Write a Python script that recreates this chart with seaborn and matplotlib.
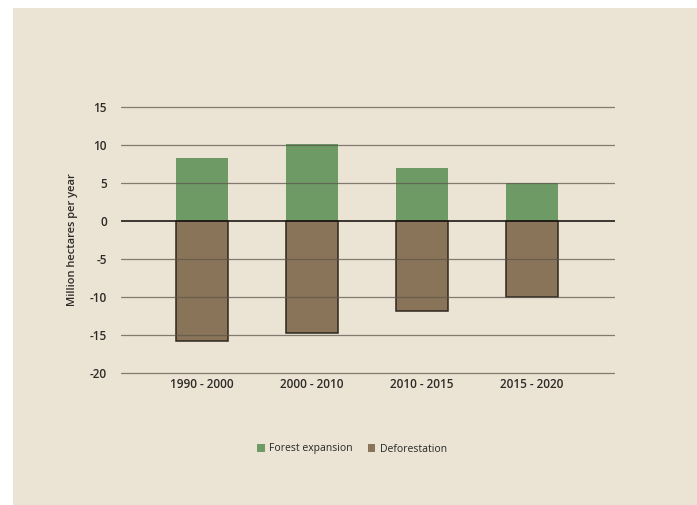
import matplotlib
matplotlib.use("Agg")
import matplotlib.pyplot as plt
import seaborn as sns
import pandas as pd
from matplotlib.patches import Rectangle, Patch

periods = ["1990 - 2000", "2000 - 2010", "2010 - 2015", "2015 - 2020"]
forest_expansion = [8.3, 10.1, 7.0, 5.0]
deforestation = [-15.8, -14.8, -11.8, -10.0]
y_ticks = [15, 10, 5, 0, -5, -10, -15, -20]
series_names = ["Forest expansion", "Deforestation"]

green = "#6e9a66"
brown = "#8a7459"
bg = "#ebe4d5"

sns.set_theme(style="white")
plt.rcParams['font.family'] = ['Open Sans', 'DejaVu Sans']

W, H = 697, 505
fig = plt.figure(figsize=(W / 100, H / 100), dpi=100, facecolor="white")
fig.patches.append(Rectangle((13 / W, 0), 1 - 13 / W, 1 - 8 / H, transform=fig.transFigure,
                             facecolor=bg, edgecolor="none", zorder=-5))

ymin, ymax = -20.5, 15.5
ppu = (373 - 107) / 35.0
top_px = 107 - (ymax - 15) * ppu
bot_px = 373 + (-20 - ymin) * ppu
ax = fig.add_axes([121 / W, 1 - bot_px / H, (615 - 121) / W, (bot_px - top_px) / H])
ax.set_facecolor("none")
ax.patch.set_alpha(0)

df = pd.DataFrame({"period": periods, "exp": forest_expansion, "defo": deforestation})
sns.barplot(data=df, x="period", y="exp", color=green, saturation=1, width=0.47,
            edgecolor="none", linewidth=0, ax=ax)
sns.barplot(data=df, x="period", y="defo", color=brown, saturation=1, width=0.47,
            edgecolor="#2f271e", linewidth=1.1, ax=ax)
for p in ax.patches:
    p.set_zorder(1)

for t in y_ticks:
    if t == 0:
        ax.axhline(t, color="#1e1a16", lw=1.2, zorder=6)
    else:
        ax.axhline(t, color="#5e574b", lw=0.9, alpha=0.75, zorder=5)

ax.set_xlim(-0.735, 3.755)
ax.set_ylim(ymin, ymax)
ax.set_yticks(y_ticks)
ax.set_yticklabels([str(t) for t in y_ticks])
for s in ax.spines.values():
    s.set_visible(False)
ax.tick_params(axis="both", length=0, labelsize=8.5, labelcolor="#2e2a26")
ax.tick_params(axis="y", pad=10)
ax.tick_params(axis="x", pad=1)
for lbl in ax.get_xticklabels() + ax.get_yticklabels():
    lbl.set_fontweight("semibold")
ax.set_xlabel("")
ax.set_ylabel("")
fig.text(73 / W, 1 - 240 / H, "Million hectares per year", rotation=90, ha="center", va="center",
         fontsize=8, color="#2e2a26", fontweight="semibold")

handles = [Patch(facecolor=green, edgecolor="none"), Patch(facecolor=brown, edgecolor="none")]
fig.legend(handles, series_names, loc="center", bbox_to_anchor=(352 / W, 1 - 449 / H), ncol=2,
           frameon=False, handlelength=0.75, handleheight=0.9, handletextpad=0.4, columnspacing=1.4,
           prop={"size": 7.5})

fig.savefig("out.png", dpi=100, facecolor="white")
